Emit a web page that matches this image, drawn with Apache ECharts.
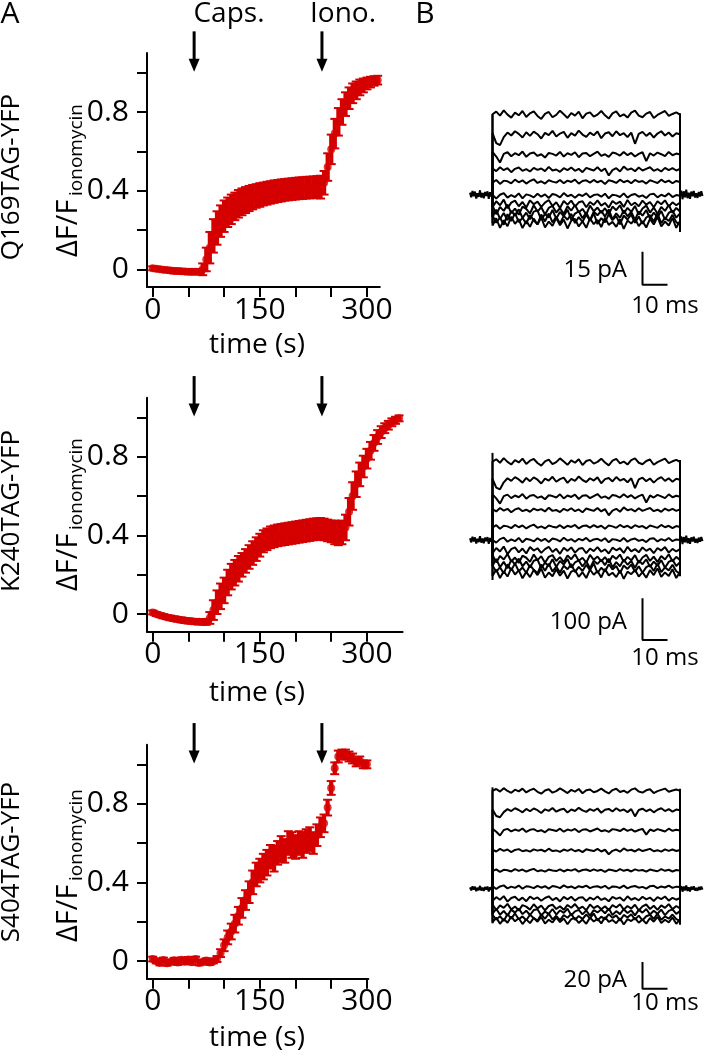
<!DOCTYPE html>
<html>
<head>
<meta charset="utf-8">
<script src="https://cdn.jsdelivr.net/npm/echarts@6/dist/echarts.min.js"></script>
<style>
  html, body { margin: 0; padding: 0; background: #fff; }
  #main { width: 728px; height: 1056px; }
</style>
</head>
<body>
<div id="main"></div>
<script>
// ---- panel A : ΔF/F_ionomycin, one point every 5 s ----
const dtA = 5;
const q169Mean = [0.005,0.003,0.0,-0.002,-0.004,-0.006,-0.008,-0.009,-0.01,-0.011,-0.012,-0.012,-0.012,-0.012,
  0.0,0.05,0.11,0.17,0.21,0.245,0.27,0.29,0.305,0.32,
  0.333,0.343,0.352,0.36,0.367,0.373,0.378,0.383,0.387,0.391,
  0.395,0.398,0.401,0.404,0.406,0.408,0.41,0.412,0.413,0.415,
  0.416,0.417,0.418,0.418,0.44,0.52,0.61,0.69,0.75,0.8,
  0.84,0.87,0.895,0.91,0.925,0.935,0.945,0.952,0.958,0.962];
const q169Err = [0.01,0.01,0.01,0.01,0.011,0.011,0.012,0.012,0.012,0.012,0.013,0.013,0.013,0.013,
  0.03,0.06,0.08,0.085,0.085,0.08,0.08,0.075,0.075,0.07,
  0.07,0.068,0.066,0.064,0.062,0.06,0.06,0.058,0.058,0.057,
  0.057,0.056,0.056,0.055,0.055,0.055,0.055,0.055,0.055,0.055,
  0.055,0.055,0.056,0.058,0.06,0.07,0.075,0.075,0.07,0.065,
  0.06,0.055,0.05,0.045,0.04,0.035,0.03,0.027,0.024,0.022];

const k240Mean = [0.008,0.0,-0.006,-0.011,-0.016,-0.02,-0.024,-0.027,-0.03,-0.033,
  -0.035,-0.037,-0.039,-0.04,-0.041,-0.04,-0.02,0.02,0.06,0.09,
  0.12,0.16,0.19,0.21,0.23,0.25,0.27,0.29,0.31,0.33,
  0.35,0.37,0.38,0.39,0.395,0.4,0.403,0.406,0.409,0.412,
  0.415,0.418,0.421,0.424,0.427,0.43,0.432,0.433,0.43,0.425,
  0.42,0.415,0.41,0.415,0.44,0.52,0.6,0.66,0.71,0.75,
  0.79,0.83,0.87,0.9,0.925,0.945,0.96,0.975,0.985,0.995];
const k240Err = [0.01,0.01,0.01,0.01,0.01,0.011,0.011,0.011,0.012,0.012,
  0.012,0.012,0.012,0.012,0.012,0.015,0.03,0.05,0.06,0.065,
  0.065,0.065,0.065,0.065,0.065,0.06,0.06,0.06,0.06,0.06,
  0.058,0.056,0.055,0.055,0.055,0.055,0.055,0.055,0.055,0.055,
  0.055,0.055,0.055,0.055,0.055,0.055,0.055,0.055,0.055,0.055,
  0.055,0.06,0.06,0.06,0.065,0.07,0.07,0.065,0.06,0.055,
  0.05,0.045,0.04,0.035,0.03,0.025,0.022,0.02,0.018,0.015];

const s404Mean = [0.01,0.0,-0.01,0.005,-0.012,-0.005,0.004,-0.008,0.006,-0.004,
  0.008,-0.006,0.01,-0.01,-0.005,0.002,-0.008,0.0,0.01,0.04,
  0.08,0.12,0.15,0.19,0.23,0.27,0.31,0.35,0.4,0.44,
  0.46,0.48,0.5,0.53,0.52,0.55,0.57,0.56,0.6,0.59,
  0.58,0.6,0.59,0.61,0.62,0.6,0.64,0.68,0.7,0.78,
  0.88,0.98,1.04,1.05,1.05,1.04,1.03,1.01,1.02,1.0,
  1.0];
const s404Err = [0.012,0.012,0.012,0.012,0.012,0.012,0.012,0.012,0.012,0.012,
  0.012,0.012,0.012,0.012,0.012,0.012,0.012,0.012,0.015,0.02,
  0.03,0.035,0.04,0.045,0.045,0.05,0.05,0.055,0.06,0.06,
  0.06,0.065,0.065,0.06,0.065,0.06,0.065,0.06,0.06,0.065,
  0.06,0.06,0.065,0.06,0.06,0.055,0.055,0.05,0.045,0.04,
  0.035,0.03,0.03,0.025,0.025,0.025,0.025,0.02,0.02,0.02,
  0.02];

const xTicksA = [0, 50, 100, 150, 200, 250, 300];
const xLabelsA = [0, 150, 300];
const yTicksA = [0, 0.2, 0.4, 0.6, 0.8, 1.0];
const yLabelsA = [0, 0.4, 0.8];
const drugTimes = [58, 237];        // Caps., Iono.
const arrowSpan = [1.21, 1.005];    // arrow tail / tip in ΔF/F units
const mutants = ['Q169TAG-YFP', 'K240TAG-YFP', 'S404TAG-YFP'];

// ---- panel B : current families (ms, pA) ----
const stepDt = 1.5;   // wobble samples 0..75 ms
const levelsQ169 = [35.6, 27.3, 18.2, 11.4, 5.9, -0.5, -4.1, -6.8, -9.1, -11.0, -12.7];
const levelsK240 = [184, 144, 104, 72, 32, 0, -24, -44, -56, -68, -80];
const levelsS404 = [72.5, 58.7, 43.7, 28.7, 13.7, 1.2, -7.5, -13.8, -17.5, -21.3, -23.8];
const noiseUnit = [1.5, 7.0, 1.6];
const wobble = [
  [0.6,1.4,0.2,1.8,0.5,-0.4,1.1,0.3,1.6,-0.2, 0.9,1.5,0.1,-0.8,0.7,1.3,-0.3,0.4,1.7,0.6, -0.5,1.0,0.2,1.4,-0.6,0.8,1.2,-0.1,0.5,1.6, 0.3,-0.7,0.9,1.5,0.0,0.6,-0.4,1.1,1.7,0.2, -0.3,0.8,1.3,-0.5,0.4,1.0,1.6,0.1,0.7,1.2, 0.5],
  [0.4,-2.6,-3.2,-0.8,0.6,-0.3,1.0,0.2,-0.9,0.7, -0.4,0.9,0.1,-1.2,0.5,-0.2,1.1,-0.6,0.3,0.8, -1.0,0.4,-0.3,1.2,0.0,-0.7,0.6,-0.2,0.9,-1.1, 0.3,0.7,-0.5,1.0,-0.2,0.4,-0.8,0.6,-2.8,0.2, 0.8,-0.4,0.5,-0.9,0.3,1.0,-0.3,0.6,-0.6,0.4, 0.1],
  [0.8,-0.6,-2.4,0.2,0.7,-0.5,0.4,-0.2,0.9,-0.7, 0.3,0.6,-0.4,0.1,-0.9,0.5,0.2,-0.3,0.8,-0.6, 0.4,-0.1,0.7,-0.8,0.3,0.5,-0.5,0.2,0.9,-0.4, 0.1,-0.7,0.6,0.3,-0.3,0.8,-0.2,0.5,-0.6,0.2, 0.7,-2.0,0.4,-0.3,0.6,0.1,-0.5,0.8,-0.2,0.3, 0.0],
  [0.3,-0.5,0.7,-0.2,0.4,-0.8,0.2,0.6,-0.4,0.1, -0.6,0.5,-0.1,0.3,-0.5,0.8,-0.3,0.0,-0.7,0.4, -0.2,0.6,-0.4,0.2,-0.8,0.5,0.1,-0.3,0.7,-0.5, 0.3,-1.8,-0.2,0.4,-0.6,0.9,-0.1,0.3,-0.5,0.6, -0.3,0.2,0.7,-0.4,0.1,-0.6,0.5,-0.2,0.4,-0.3, 0.2],
  [-0.3,0.5,-0.7,0.3,0.1,-0.5,0.6,-0.2,0.4,-0.6, 0.2,0.7,-0.4,0.1,-0.6,0.4,0.0,-0.3,0.5,-0.5, 0.3,-0.1,0.6,-0.6,0.2,0.4,-0.3,0.5,-0.2,0.3, -0.7,0.4,0.1,-0.4,0.6,-0.2,0.3,-0.5,0.5,-0.1, 0.2,-0.6,0.4,0.0,-0.4,0.6,-0.2,0.3,-0.5,0.2, -0.1],
  [0.5,-0.9,0.3,0.8,-0.6,0.2,-0.4,0.7,-0.8,0.4, 0.1,-0.5,0.6,-0.3,0.4,-0.7,0.5,0.2,-0.5,0.8, -0.2,0.3,-0.6,0.4,-0.1,0.7,-0.5,0.2,0.4,-0.3, 0.6,-0.8,0.3,0.1,-0.4,0.7,-0.6,0.2,0.5,-0.3, 0.1,-0.7,0.4,0.6,-0.5,0.3,-0.2,0.7,-0.4,0.2, 0.0],
  [-1.1,0.7,-0.5,1.2,-1.4,0.3,0.9,-0.8,0.5,-1.2, 1.0,-0.2,0.6,-1.0,0.3,1.1,-0.7,0.4,-1.3,0.8, -0.3,0.9,-0.9,0.4,0.7,-1.1,0.5,-0.4,1.0,-0.6, 0.2,-1.2,0.8,-0.1,0.6,-1.0,1.1,-0.5,0.3,-0.8, 0.9,-0.3,0.5,-1.1,0.7,-0.2,1.0,-0.9,0.4,-0.5, 0.3],
  [1.2,-1.4,0.8,-0.4,1.5,-1.1,0.3,-1.6,0.9,0.2, -1.2,1.3,-0.6,0.7,-1.5,0.5,1.1,-0.9,0.4,-1.3, 1.0,-0.3,1.4,-0.8,0.2,-1.5,1.2,-0.5,0.6,-1.0, 0.4,-1.4,0.9,-0.2,1.3,-1.2,0.5,-0.7,1.1,-1.6, 0.3,1.2,-0.9,0.6,-1.3,0.8,-0.4,1.4,-1.0,0.5, -0.6],
  [-0.8,1.5,-1.3,0.5,-1.7,1.1,-0.3,1.6,-1.0,0.6, -1.4,0.9,1.3,-1.6,0.2,-0.9,1.4,-1.2,0.8,-0.4, 1.5,-1.5,0.3,1.0,-1.1,0.7,-1.7,0.9,-0.2,1.2, -0.6,1.6,-1.4,0.4,-1.0,1.3,-0.5,0.8,-1.6,1.0, -0.3,1.4,-1.2,0.6,-0.8,1.1,-1.5,0.5,1.2,-0.9, 0.4],
  [1.0,-1.2,0.4,-1.8,1.4,-0.7,1.7,-1.0,0.3,-1.5, 1.1,-0.5,-1.7,1.3,-0.8,1.6,-1.1,0.6,-1.4,0.9, -0.3,1.5,-1.3,0.5,-0.9,1.2,-0.6,1.7,-1.6,0.2, -1.1,1.4,-0.4,0.8,-1.7,1.0,-0.2,1.3,-1.2,0.7, -1.5,0.4,1.1,-0.9,1.6,-1.3,0.3,-0.7,1.2,-1.0, -1.8],
  [-0.9,1.3,-1.6,0.7,-1.1,1.8,-0.4,1.0,-1.7,0.5, -1.3,1.2,-0.6,1.6,-1.5,0.3,-1.0,1.4,-0.8,0.9, -1.8,0.6,1.1,-1.2,0.4,-1.6,1.3,-0.5,0.8,-1.4, 1.5,-0.7,0.2,-1.3,1.0,-1.9,0.6,-0.3,1.2,-1.1, 0.4,-1.5,1.1,-0.6,1.7,-1.2,0.3,-0.9,1.4,-1.6, 0.5]
];
const baseDt = 0.5;
const basePre = [0.6,-0.8,1.1,-0.5,0.9,-1.2,0.4,-0.7,1.3,-0.9,0.5,-1.1,0.8,-0.4,1.0,-1.3,0.7,-0.6,0.2];     // -9..0 ms
const basePost = [-0.3,1.2,-1.4,1.0,-0.8,1.5,-1.1,0.6,-1.3,0.9,-0.5,1.1,-0.9,0.4,-1.0,0.8,-0.6,1.0,-0.4]; // 75..84 ms
const onEdges = [[-13, 36.5], [-96, 209], [-26, 76]];
const offEdges = [[-17, 37], [-87, 192], [-27, 75]];
const scaleBars = [[60, -41, 10, 15], [60, -240, 10, 100], [60, -75, 10, 20]];
const scaleLabels = ['15 pA', '100 pA', '20 pA'];

const RED = '#d40000';
const FONT = 'Open Sans';

const chart = echarts.init(document.getElementById('main'));

const gridsA = [
  { left: 147, top: 53, width: 232.8, height: 234 },
  { left: 147, top: 397.7, width: 255.6, height: 234 },
  { left: 147, top: 744.7, width: 221.3, height: 234 }
];
const xMaxA = [318, 350, 302];
const gridsB = [
  { left: 470, top: 100, width: 232.5, height: 220 },
  { left: 470, top: 430, width: 232.5, height: 250 },
  { left: 470, top: 770, width: 232.5, height: 240 }
];
const yRangeB = [[-57, 43], [-336, 264], [-91, 89]];

const grid = [];
const xAxis = [];
const yAxis = [];
const series = [];

const axisLineStyle = { color: '#000', width: 2 };

gridsA.forEach((g, i) => {
  grid.push(Object.assign({ outerBoundsMode: 'none' }, g));
  xAxis.push({
    gridIndex: i, type: 'value', min: -8, max: xMaxA[i],
    axisLine: { show: true, onZero: false, lineStyle: axisLineStyle },
    axisTick: { show: true, length: 10, lineStyle: axisLineStyle, customValues: xTicksA },
    axisLabel: { customValues: xLabelsA, fontSize: 30, color: '#000', fontFamily: FONT, margin: 8 },
    splitLine: { show: false }
  });
  yAxis.push({
    gridIndex: i, type: 'value', min: -0.09, max: 1.1,
    axisLine: { show: true, onZero: false, lineStyle: axisLineStyle },
    axisTick: { show: true, length: 10, lineStyle: axisLineStyle, customValues: yTicksA },
    axisLabel: { customValues: yLabelsA, fontSize: 30, color: '#000', fontFamily: FONT, margin: 18 },
    splitLine: { show: false }
  });
});
gridsB.forEach((g, i) => {
  grid.push(Object.assign({ outerBoundsMode: 'none' }, g));
  xAxis.push({ gridIndex: 3 + i, type: 'value', min: -9, max: 84, show: false });
  yAxis.push({ gridIndex: 3 + i, type: 'value', min: yRangeB[i][0], max: yRangeB[i][1], show: false });
});

// error bar drawn as a narrow filled bar with caps: the points overlap, as in the dense original
function renderErr(params, api) {
  const x = api.value(0);
  const lo = api.coord([x, api.value(1)]);
  const hi = api.coord([x, api.value(2)]);
  const cap = 4.5, bw = 4.2;
  const st = { stroke: RED, lineWidth: 2 };
  return {
    type: 'group', children: [
      { type: 'rect', shape: { x: lo[0] - bw / 2, y: hi[1], width: bw, height: lo[1] - hi[1] }, style: { fill: RED } },
      { type: 'line', shape: { x1: lo[0] - cap, y1: lo[1], x2: lo[0] + cap, y2: lo[1] }, style: st },
      { type: 'line', shape: { x1: hi[0] - cap, y1: hi[1], x2: hi[0] + cap, y2: hi[1] }, style: st }
    ]
  };
}

function renderArrow(params, api) {
  const x = api.value(0);
  const tail = api.coord([x, api.value(1)]);
  const tip = api.coord([x, api.value(2)]);
  const hw = 5.5, hh = 13;
  return {
    type: 'group', children: [
      { type: 'line', shape: { x1: tail[0], y1: tail[1], x2: tip[0], y2: tip[1] - hh + 1 }, style: { stroke: '#000', lineWidth: 3 } },
      { type: 'polygon', shape: { points: [[tip[0] - hw, tip[1] - hh], [tip[0] + hw, tip[1] - hh], [tip[0], tip[1]]] }, style: { fill: '#000' } }
    ]
  };
}

[[q169Mean, q169Err], [k240Mean, k240Err], [s404Mean, s404Err]].forEach(([mean, err], i) => {
  series.push({
    type: 'custom', xAxisIndex: i, yAxisIndex: i, renderItem: renderErr,
    encode: { x: 0, y: [1, 2] },
    data: mean.map((v, k) => [k * dtA, v - err[k], v + err[k]]), z: 2
  });
  series.push({
    type: 'scatter', xAxisIndex: i, yAxisIndex: i, symbol: 'circle', symbolSize: 8,
    itemStyle: { color: RED }, data: mean.map((v, k) => [k * dtA, v]), z: 3
  });
  series.push({
    type: 'custom', xAxisIndex: i, yAxisIndex: i, renderItem: renderArrow, clip: false,
    data: drugTimes.map(t => [t, arrowSpan[0], arrowSpan[1]]), z: 4
  });
});

const lineBase = { type: 'line', showSymbol: false, symbol: 'none', silent: true, clip: false };
[levelsQ169, levelsK240, levelsS404].forEach((levels, i) => {
  const ax = 3 + i;
  const u = noiseUnit[i];
  levels.forEach((lvl, r) => {
    const pts = [[0, 0]];
    wobble[r].forEach((w, k) => pts.push([k * stepDt, lvl + u * w]));
    pts.push([75, 0]);
    series.push(Object.assign({}, lineBase, {
      xAxisIndex: ax, yAxisIndex: ax, data: pts,
      lineStyle: { color: '#000', width: 2 }
    }));
  });
  series.push(Object.assign({}, lineBase, {
    xAxisIndex: ax, yAxisIndex: ax, data: basePre.map((w, k) => [-9 + k * baseDt, u * w]),
    lineStyle: { color: '#000', width: 2 }
  }));
  series.push(Object.assign({}, lineBase, {
    xAxisIndex: ax, yAxisIndex: ax, data: basePost.map((w, k) => [75 + k * baseDt, u * w]),
    lineStyle: { color: '#000', width: 2 }
  }));
  [onEdges[i], offEdges[i]].forEach((e, j) => {
    const t = j === 0 ? 0 : 75;
    series.push(Object.assign({}, lineBase, {
      xAxisIndex: ax, yAxisIndex: ax, data: [[t, e[0]], [t, e[1]]],
      lineStyle: { color: '#000', width: 2 }
    }));
  });
  const sb = scaleBars[i];
  series.push(Object.assign({}, lineBase, {
    xAxisIndex: ax, yAxisIndex: ax,
    data: [[sb[0] + sb[2], sb[1]], [sb[0], sb[1]], [sb[0], sb[1] + sb[3]]],
    lineStyle: { color: '#000', width: 2 }
  }));
});

function txt(text, x, y, size, extra) {
  return {
    type: 'text', x: x, y: y, silent: true,
    style: Object.assign({ text: text, fontSize: size, fontFamily: FONT, fill: '#000', align: 'center', verticalAlign: 'middle' }, extra || {})
  };
}
function rtxt(text, x, y, size, align) {
  const t = txt(text, x, y, size, { align: align || 'center' });
  t.rotation = Math.PI / 2;
  return t;
}

const graphic = [
  txt('A', 10, 14, 30),
  txt('B', 425, 14, 30),
  txt('Caps.', 229, 14, 28),
  txt('Iono.', 343, 14, 28)
];
mutants.forEach((m, i) => {
  const dy = [0, 334, 685][i];
  graphic.push(rtxt(m, 12, 177 + dy, 26));
  graphic.push(rtxt('ΔF/F', 69, 257 + dy, 29, 'left'));
  graphic.push(rtxt('ionomycin', 77, 196 + dy, 19, 'left'));
});
graphic.push(txt('time (s)', 257, 345, 28), txt('time (s)', 257, 693, 28), txt('time (s)', 257, 1038, 28));
const scaleTextY = [[270, 306], [622, 658], [980, 1003]];
scaleLabels.forEach((s, i) => {
  graphic.push(txt(s, 627, scaleTextY[i][0], 24, { align: 'right' }));
  graphic.push(txt('10 ms', 665, scaleTextY[i][1], 24));
});

chart.setOption({
  animation: false,
  backgroundColor: '#fff',
  grid: grid,
  xAxis: xAxis,
  yAxis: yAxis,
  series: series,
  graphic: graphic
});
</script>
</body>
</html>
